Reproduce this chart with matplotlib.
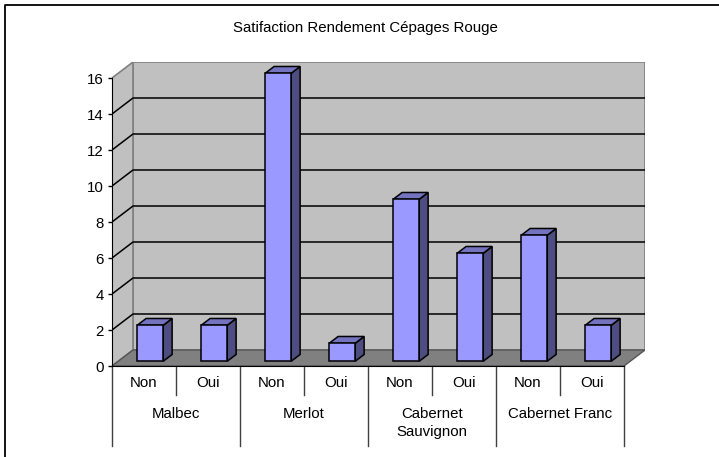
import numpy as np
import matplotlib
matplotlib.use("Agg")
import matplotlib.pyplot as plt
from matplotlib.patches import Polygon
from matplotlib.lines import Line2D

plt.rcParams["font.family"] = ["Liberation Sans", "DejaVu Sans"]

TITLE = "Satifaction Rendement Cépages Rouge"
grapes = ["Malbec", "Merlot", "Cabernet\nSauvignon", "Cabernet Franc"]
answers = ["Non", "Oui"]
non_counts = [2, 16, 9, 7]
oui_counts = [2, 1, 6, 2]
y_ticks = [0, 2, 4, 6, 8, 10, 12, 14, 16]

W, H = 719, 457
SLOT = 64.0   # px per category
UNIT = 18.0   # px per value unit
DX = 21 / SLOT   # depth offset in category units
DY = 16 / UNIT   # depth offset in value units
FS = 10.8

FRONT = "#9999FF"
TOP = "#7373BF"
SIDE = "#4D4D80"
WALL = "#C0C0C0"
FLOOR = "#808080"

values = []
for n, o in zip(non_counts, oui_counts):
    values += [n, o]
ncat = len(values)
ymax = y_ticks[-1]

fig = plt.figure(figsize=(W / 100, H / 100), dpi=100)
ax = fig.add_axes([112 / W, 91 / H, (ncat + DX) * SLOT / W, (ymax + DY) * UNIT / H])
ax.set_xlim(0, ncat + DX)
ax.set_ylim(0, ymax + DY)
ax.patch.set_visible(False)

# walls and floor
ax.add_patch(Polygon([(DX, DY), (ncat + DX, DY), (ncat + DX, ymax + DY), (DX, ymax + DY)],
                     fc=WALL, ec="#808080", lw=1.2, zorder=1))
ax.add_patch(Polygon([(0, 0), (DX, DY), (DX, ymax + DY), (0, ymax)],
                     fc=WALL, ec="#808080", lw=1.2, zorder=1))
ax.add_patch(Polygon([(0, 0), (ncat, 0), (ncat + DX, DY), (DX, DY)],
                     fc=FLOOR, ec="#555555", lw=1, zorder=2))

# gridlines
for v in y_ticks[1:-1]:
    ax.plot([0, DX, ncat + DX], [v, v + DY, v + DY], color="black", lw=1.1, zorder=2)

# bars
f0, f1 = 0.29, 0.72
w = 26 / SLOT
d = f1 - f0
for i, v in enumerate(values):
    x0 = i + 0.5 - w / 2 + f0 * DX
    y0 = f0 * DY
    ex, ey = d * DX, d * DY
    side = [(x0 + w, y0), (x0 + w + ex, y0 + ey), (x0 + w + ex, v + y0 + ey), (x0 + w, v + y0)]
    top = [(x0, v + y0), (x0 + w, v + y0), (x0 + w + ex, v + y0 + ey), (x0 + ex, v + y0 + ey)]
    front = [(x0, y0), (x0 + w, y0), (x0 + w, v + y0), (x0, v + y0)]
    for pts, c in [(side, SIDE), (top, TOP), (front, FRONT)]:
        ax.add_patch(Polygon(pts, fc=c, ec="black", lw=1.1, zorder=3, joinstyle="miter"))

# axes
for s in ["top", "right"]:
    ax.spines[s].set_visible(False)
ax.spines["left"].set_bounds(0, ymax)
ax.spines["bottom"].set_bounds(0, ncat)
ax.spines["left"].set_zorder(4)
ax.spines["bottom"].set_zorder(4)
ax.set_yticks(y_ticks)
ax.set_xticks([])
ax.tick_params(axis="y", length=3, width=1, pad=3, labelsize=FS)

# two-level category labels
sub_depth = 29 / UNIT
grp_depth = 80 / UNIT
for i in range(ncat):
    ax.text(i + 0.5, -17 / UNIT, answers[i % 2], ha="center", va="center",
            fontsize=FS, clip_on=False)
for k in range(1, ncat, 2):
    ax.plot([k, k], [0, -sub_depth], color="#404040", lw=1, clip_on=False)
for k in range(0, ncat + 1, 2):
    ax.plot([k, k], [0, -grp_depth], color="#404040", lw=1, clip_on=False)
for g, name in enumerate(grapes):
    ax.text(2 * g + 1, -41 / UNIT, name, ha="center", va="top", fontsize=FS,
            linespacing=1.35, clip_on=False)

fig.text(365 / W, 1 - 28 / H, TITLE, ha="center", va="center", fontsize=FS)

# chart frame (top and left edges)
fig.add_artist(Line2D([5 / W, 5 / W, 1], [0, 1 - 5 / H, 1 - 5 / H],
                      transform=fig.transFigure, color="black", lw=1.3))

fig.savefig("out.png", dpi=100)
